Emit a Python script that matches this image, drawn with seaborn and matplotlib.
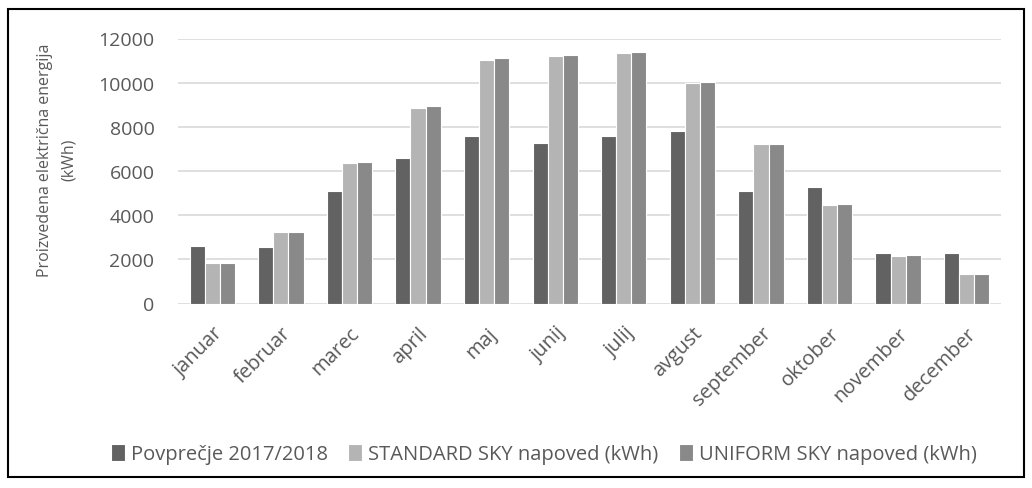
import matplotlib
matplotlib.use('Agg')
import matplotlib.pyplot as plt
import seaborn as sns
import pandas as pd
from matplotlib.patches import Rectangle

months = ["januar", "februar", "marec", "april", "maj", "junij", "julij",
          "avgust", "september", "oktober", "november", "december"]
povprecje = [2620, 2545, 5110, 6580, 7600, 7255, 7590, 7800, 5095, 5290, 2290, 2290]
standard_sky = [1850, 3255, 6365, 8870, 11030, 11210, 11350, 9990, 7210, 4475, 2150, 1340]
uniform_sky = [1850, 3260, 6410, 8930, 11105, 11270, 11405, 10050, 7225, 4495, 2185, 1340]
series = ["Povprečje 2017/2018", "STANDARD SKY napoved (kWh)", "UNIFORM SKY napoved (kWh)"]

df = pd.DataFrame({"mesec": months * 3,
                   "vrednost": povprecje + standard_sky + uniform_sky,
                   "serija": [series[0]] * 12 + [series[1]] * 12 + [series[2]] * 12})

sns.set_style("white")
plt.rcParams['font.family'] = ['Open Sans', 'DejaVu Sans']

fig = plt.figure(figsize=(10.32, 4.89), dpi=100)
ax = fig.add_axes([178 / 1032, 1 - 304.5 / 489, (1001 - 178) / 1032, 265 / 489])

pal = ["#626262", "#b4b4b4", "#898989"]
sns.barplot(data=df, x="mesec", y="vrednost", hue="serija", palette=pal,
            width=0.66, edgecolor="white", linewidth=0.8, saturation=1, ax=ax)

ax.set_ylim(0, 12000)
ax.set_yticks(range(0, 12001, 2000))
ax.yaxis.grid(True, color="#d9d9d9", linewidth=1.2)
ax.set_axisbelow(True)
for s in ["top", "right", "left", "bottom"]:
    ax.spines[s].set_visible(False)
ax.tick_params(axis="both", length=0, colors="#595959")
ax.tick_params(axis="y", labelsize=14, pad=17)
ax.tick_params(axis="x", labelsize=14.5, pad=14)
plt.setp(ax.get_xticklabels(), rotation=45, ha="right", rotation_mode="anchor")
ax.set_xlabel("")
ax.set_ylabel("Proizvedena električna energija\n(kWh)", fontsize=11.5, color="#595959",
              linespacing=1.65)
ax.yaxis.set_label_coords(-0.123, 0.545)
ax.set_xlim(-0.5, 11.5)

ax.legend(loc="center", bbox_to_anchor=(0.527, 1 - 455 / 489), bbox_transform=fig.transFigure,
          ncol=3, frameon=False, fontsize=14.5, handlelength=0.7, handleheight=0.9,
          handletextpad=0.3, columnspacing=1.0, labelcolor="#595959")

fig.patches.append(Rectangle((8 / 1032, 1 - 478 / 489), 1016 / 1032, 468 / 489,
                             transform=fig.transFigure, fill=False, edgecolor="black",
                             linewidth=1.5))

fig.savefig("out.png", dpi=100)
